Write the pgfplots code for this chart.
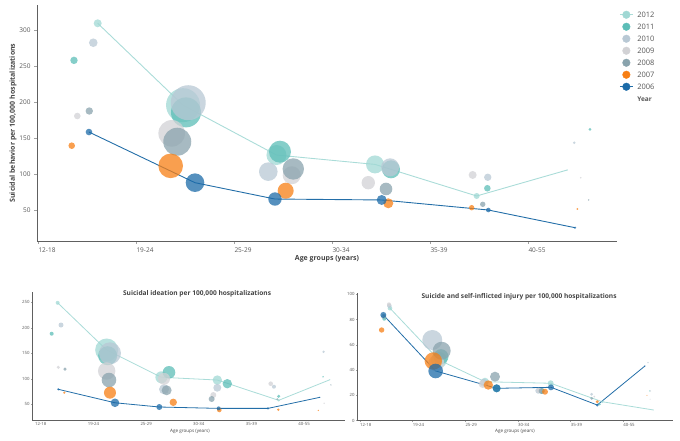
\documentclass[border=0pt]{standalone}
\usepackage{fontspec}
\setmainfont{Open Sans}
\usepackage{pgfplots}
\usepackage{pgfplotstable}
\pgfplotsset{compat=1.18}

\definecolor{c12}{RGB}{160,216,212}
\definecolor{c11}{RGB}{92,189,183}
\definecolor{c10}{RGB}{184,200,212}
\definecolor{c09}{RGB}{210,210,213}
\definecolor{c08}{RGB}{137,163,173}
\definecolor{c07}{RGB}{247,127,20}
\definecolor{c06}{RGB}{28,107,168}
\definecolor{l12}{RGB}{170,220,216}
\definecolor{l06}{RGB}{35,110,168}
\definecolor{axgray}{RGB}{68,68,68}

\newcommand\fs[1]{\fontsize{#1}{#1}\selectfont}

% top panel: suicidal behavior
\pgfplotstableread{
x y r
0.606 309.3 4
1.477 196 17
2.43 127 10
3.436 114 9
4.473 70.3 3
5.398 106.3 0.6
}\tTa
\pgfplotstableread{
x y r
0.364 258 3.7
1.507 186 15
2.466 131.6 11
3.599 107.2 9
4.582 81 3.3
5.629 162.6 1.5
}\tTb
\pgfplotstableread{
x y r
0.561 282.4 4.3
1.53 199.4 17.5
2.347 104 9.3
3.59 110 9
4.586 96.2 3.7
5.469 144 1.3
}\tTc
\pgfplotstableread{
x y r
0.398 181 3.3
1.361 157 13.3
2.586 99 9
3.367 88.7 6.7
4.432 99.4 4
5.535 95.6 0.8
}\tTd
\pgfplotstableread{
x y r
0.52 187.9 3.7
1.418 145.4 14
2.602 107.7 10.7
3.548 80 6.3
4.535 58.8 2.7
5.616 64.8 0.8
}\tTe
\pgfplotstableread{
x y r
0.341 139.9 3.3
1.351 112 12.3
2.524 77.6 8
3.571 60.2 5
4.422 54.1 2.7
5.5 52.3 1
}\tTf
\pgfplotstableread{
x y r
0.517 158.8 3.3
1.599 88.7 9.3
2.415 66.1 6.7
3.504 64.8 5
4.592 50.9 2.3
5.477 26.4 1.2
}\tTg

% bottom left: suicidal ideation
\pgfplotstableread{
x y r
0.431 249 2
1.361 156.5 11.5
2.40 103 6
3.462 97.6 4.7
4.627 57.8 1.3
5.6 98.2 0.5
}\tLa
\pgfplotstableread{
x y r
0.317 188.4 2
1.38 145.3 9.5
2.545 112.7 6.3
3.652 90.4 4.7
4.627 65.7 1.7
5.47 104 0.8
}\tLb
\pgfplotstableread{
x y r
0.494 205.5 2.5
1.424 150 11
2.45 79.4 5
3.462 82.5 4
4.538 84.5 2
5.48 153 1.3
}\tLc
\pgfplotstableread{
x y r
0.443 122.5 1.7
1.361 115.3 8.7
2.45 100 6
3.386 68.2 3
4.476 90.4 2.3
5.49 52 0.8
}\tLd
\pgfplotstableread{
x y r
0.57 119 1.7
1.405 97.6 7.3
2.5 77.5 5
3.355 60.4 3
4.6 60 1
5.62 88 0.7
}\tLe
\pgfplotstableread{
x y r
0.557 72.8 1.2
1.424 72.8 6
2.626 53.9 3.7
3.5 38.8 2.3
4.62 39.4 1.3
5.38 38 0.7
}\tLf
\pgfplotstableread{
x y r
0.443 79.4 1.2
1.519 53 4.3
2.361 44.7 3
3.488 42 2
4.425 42 1.2
5.41 63.7 0.6
}\tLg

% bottom right: suicide and self-inflicted injury
\pgfplotstableread{
x y r
0.57 88.9 2.3
1.5 48 8
2.374 30.8 4
3.621 29.6 3
4.6 15 1.3
5.57 8.5 0.5
}\tRa
\pgfplotstableread{
x y r
0.462 80.6 2
1.538 50.6 7.5
2.595 25.6 4
3.45 23.5 3
4.55 13 1.2
5.5 23.5 0.6
}\tRb
\pgfplotstableread{
x y r
0.557 90.9 2.3
1.373 63.8 10
2.35 30 4
3.386 23.7 3
4.4 20.9 1.5
5.47 45.9 0.8
}\tRc
\pgfplotstableread{
x y r
0.55 92 2
1.45 45.4 8
2.33 29 4
3.4 24 2.5
4.45 19 1
5.51 17 0.5
}\tRd
\pgfplotstableread{
x y r
0.45 82.5 2.5
1.551 55.3 9
2.564 34.8 5
3.45 23.5 3
4.4 17.7 1.5
5.52 23.5 0.5
}\tRe
\pgfplotstableread{
x y r
0.411 71.7 2.7
1.393 47.2 8.7
2.437 28.2 4.7
3.513 22.9 3
4.506 15 1.7
5.45 20 0.5
}\tRf
\pgfplotstableread{
x y r
0.443 83.6 3
1.437 39.3 7.3
2.595 25.6 4
3.627 26.4 3
4.506 12.4 1.5
5.41 43.2 0.8
}\tRg

\pgfplotsset{
  panel/.style={
    scale only axis, axis x line*=bottom, axis y line*=left,
    axis line style={draw=axgray!85, line width=0.7pt},
    enlargelimits=false, clip=false,
    xtick={0,...,5}, xticklabels={12-18,19-24,25-29,30-34,35-39,40-55},
    tick style={draw=axgray!50, line width=0.5pt},
    tick align=outside, major tick length=3pt,
    xticklabel style={anchor=north west, inner xsep=0pt, text=axgray!90},
    yticklabel style={text=axgray!90},
    /pgf/number format/assume math mode=true,
    label style={text=axgray},
  },
  small panel/.style={
    tick label style={font=\fs{4.3}},
    major tick length=1pt,
    xticklabel style={inner ysep=1pt},
    yticklabel style={inner xsep=1.5pt},
  },
  bub/.style={only marks, mark=*, color=#1,
    mark options={draw=#1, draw opacity=0, fill=#1, fill opacity=0.75},
    scatter, point meta={\thisrow{r}},
    scatter/use mapped color={draw=#1, draw opacity=0, fill=#1, fill opacity=0.75},
    visualization depends on={\thisrow{r}\as\rad},
    scatter/@pre marker code/.append style={/tikz/mark size=\rad},
    forget plot},
}

\begin{document}
\begin{tikzpicture}
\path[use as bounding box] (0,0) rectangle (680pt,-440pt);

% ---- top panel
\begin{axis}[panel, at={(37pt,-241pt)}, anchor=south west,
  width=580pt, height=236pt,
  xmin=-0.0133, xmax=5.905, ymin=8, ymax=334.6,
  ytick={50,100,...,300},
  tick label style={font=\fs{6.5}},
  ylabel={\textbf{Suicidal behavior per 100,000 hospitalizations}},
  ylabel style={at={(axis description cs:-0.0414,0.5)}, anchor=center, font=\fs{7}},
  xlabel={\textbf{Age groups (years)}},
  xlabel style={at={(axis description cs:0.5,-0.076)}, anchor=center, font=\fs{7}},
  legend style={at={(axis description cs:1.0038,0.985)}, anchor=north west,
    draw=none, fill=none, inner sep=0pt, font=\fs{7.5}, text=axgray!90,
    nodes={inner sep=1pt, text height=7.5pt, text depth=2.5pt, anchor=west},
    /tikz/every odd column/.append style={column sep=3pt},
    row sep=0pt},
  legend cell align=left,
]
\addplot[l12, line width=0.9pt, no marks, forget plot] table[x=x,y=y] {\tTa};
\addplot[bub=c12] table {\tTa};
\addplot[bub=c11] table {\tTb};
\addplot[bub=c10] table {\tTc};
\addplot[bub=c09] table {\tTd};
\addplot[bub=c08] table {\tTe};
\addplot[bub=c07] table {\tTf};
\addplot[l06, line width=0.9pt, no marks, forget plot] table[x=x,y=y] {\tTg};
\addplot[bub=c06] table {\tTg};

\addlegendimage{legend image code/.code={\draw[l12, line width=0.9pt] (0pt,0pt)--(13pt,0pt); \fill[c12] (6.5pt,0pt) circle (3.8pt);}}
\addlegendentry{2012}
\addlegendimage{legend image code/.code={\fill[c11] (6.5pt,0pt) circle (3.8pt); \path (0pt,0pt) (13pt,0pt);}}
\addlegendentry{2011}
\addlegendimage{legend image code/.code={\fill[c10] (6.5pt,0pt) circle (3.8pt); \path (0pt,0pt) (13pt,0pt);}}
\addlegendentry{2010}
\addlegendimage{legend image code/.code={\fill[c09] (6.5pt,0pt) circle (3.8pt); \path (0pt,0pt) (13pt,0pt);}}
\addlegendentry{2009}
\addlegendimage{legend image code/.code={\fill[c08] (6.5pt,0pt) circle (3.8pt); \path (0pt,0pt) (13pt,0pt);}}
\addlegendentry{2008}
\addlegendimage{legend image code/.code={\fill[c07] (6.5pt,0pt) circle (3.8pt); \path (0pt,0pt) (13pt,0pt);}}
\addlegendentry{2007}
\addlegendimage{legend image code/.code={\draw[l06, line width=0.9pt] (0pt,0pt)--(13pt,0pt); \fill[c06] (6.5pt,0pt) circle (3.8pt);}}
\addlegendentry{2006}
\addlegendimage{empty legend}
\addlegendentry{\fs{6.5}\textbf{Year}}
\end{axis}

% ---- bottom left panel
\begin{axis}[panel, small panel, at={(32.3pt,-420pt)}, anchor=south west,
  width=312.7pt, height=128.3pt,
  xmin=-0.051, xmax=5.887, ymin=19.2, ymax=270.8,
  ytick={50,100,...,250},
  title={\textbf{Suicidal ideation per 100,000 hospitalizations}},
  title style={at={(axis description cs:0.527,0.935)}, anchor=center, font=\fs{6.6}, text=axgray},
  xlabel={Age groups (years)},
  xlabel style={at={(axis description cs:0.504,-0.088)}, anchor=center, font=\fs{4.6}},
]
\addplot[l12, line width=0.8pt, no marks, forget plot] table[x=x,y=y] {\tLa};
\addplot[bub=c12] table {\tLa};
\addplot[bub=c11] table {\tLb};
\addplot[bub=c10] table {\tLc};
\addplot[bub=c09] table {\tLd};
\addplot[bub=c08] table {\tLe};
\addplot[bub=c07] table {\tLf};
\addplot[l06, line width=0.8pt, no marks, forget plot] table[x=x,y=y] {\tLg};
\addplot[bub=c06] table {\tLg};
\end{axis}

% ---- bottom right panel
\begin{axis}[panel, small panel, at={(357.3pt,-420.7pt)}, anchor=south west,
  width=316pt, height=127.4pt,
  xmin=-0.051, xmax=5.95, ymin=0, ymax=100.7,
  ytick={0,20,...,100},
  title={\textbf{Suicide and self-inflicted injury per 100,000 hospitalizations}},
  title style={at={(axis description cs:0.512,0.929)}, anchor=center, font=\fs{6.6}, text=axgray},
  xlabel={Age groups (years)},
  xlabel style={at={(axis description cs:0.499,-0.085)}, anchor=center, font=\fs{4.6}},
]
\addplot[l12, line width=0.8pt, no marks, forget plot] table[x=x,y=y] {\tRa};
\addplot[bub=c12] table {\tRa};
\addplot[bub=c11] table {\tRb};
\addplot[bub=c10] table {\tRc};
\addplot[bub=c09] table {\tRd};
\addplot[bub=c08] table {\tRe};
\addplot[bub=c07] table {\tRf};
\addplot[l06, line width=0.8pt, no marks, forget plot] table[x=x,y=y] {\tRg};
\addplot[bub=c06] table {\tRg};
\end{axis}
\end{tikzpicture}
\end{document}
